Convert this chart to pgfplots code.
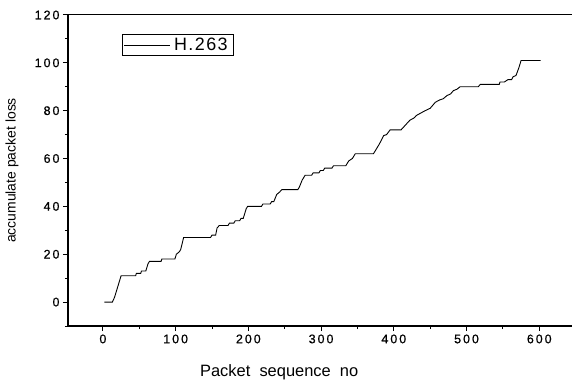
\documentclass[border=0pt]{standalone}
\usepackage{fontspec}
\setmainfont{Liberation Sans}
\newfontfamily\tickfont[LetterSpace=16,FakeBold=0.6]{Liberation Sans}
\newfontfamily\legfont[LetterSpace=8]{Liberation Sans}
\usepackage{pgfplots}
\pgfplotsset{compat=1.18}
\begin{document}
\begin{tikzpicture}
\begin{axis}[
  scale only axis,
  width=504bp, height=311bp,
  xmin=-48, xmax=645, ymin=-10, ymax=120,
  separate axis lines,
  axis x line*=bottom, axis y line*=left,
  x axis line style={-, line width=1.4pt},
  y axis line style={-, line width=1.4pt},
  xtick={0,100,...,600}, ytick={0,20,...,120},
  minor xtick={-50,50,150,250,350,450,550},
  minor ytick={-10,10,30,50,70,90,110},
  tick align=outside,
  major tick length=5bp, minor tick length=3bp,
  every tick/.style={black, line width=1pt},
  xticklabel={\tickfont\fontsize{12.5}{13}\selectfont\pgfmathprintnumber[assume math mode=true]{\tick}},
  yticklabel={\tickfont\fontsize{12.5}{13}\selectfont\pgfmathprintnumber[assume math mode=true]{\tick}},
  xlabel={Packet\ \ sequence\ \ no},
  ylabel={accumulate packet loss},
  xlabel style={font=\fontsize{16.5}{17}\selectfont, at={(axis description cs:0.419,-0.148)}, anchor=center},
  ylabel style={font=\fontsize{14}{15}\selectfont, at={(axis description cs:-0.111,0.5)}, anchor=center},
  legend style={at={(axis description cs:0.107,0.939)}, anchor=north west,
    draw=black, line width=1.1pt, font=\legfont\fontsize{18}{19}\selectfont,
    inner sep=1.5bp, row sep=0pt, nodes={inner xsep=4bp}},
  legend image code/.code={\draw[#1, line width=0.8pt] (0,0) -- (1.6cm,0);},
  clip=false,
]
\draw[line width=1pt] (rel axis cs:0,1) -- (rel axis cs:1,1);
\addplot[black, line width=0.9pt] coordinates {
(2,0) (13,0) (16,2) (20,6) (25,11) (45,11) (46,12) (52,12) (53,13) (59,13)
(62,16) (64,17) (80,17) (81,18) (99,18) (101,20) (105,21) (107,22) (111,27)
(148,27) (150,28) (155,28) (157,31) (160,32) (172,32) (174,33) (180,33)
(182,34) (188,34) (190,35) (193,35) (197,39) (199,40) (218,40) (220,41)
(230,41) (232,42) (235,42) (239,45) (243,46) (246,47) (268,47) (270,48)
(274,51) (278,53) (287,53) (289,54) (297,54) (299,55) (303,55) (305,56)
(315,56) (317,57) (334,57) (336,58) (338,59) (343,60) (347,62) (372,62)
(376,64) (380,66) (386,69.6) (390,70) (395,72) (410,72) (416,74) (422,76)
(428,77) (431,78) (437,79) (443,80) (450,81) (457,83.5) (463,84.5) (468,85)
(473,86.3) (478,87) (482,88.4) (487,89) (491,90) (516,90) (519,91) (545,91)
(546,92) (552,92) (557,93) (562,93) (564,94.2) (568,94.7) (572,98) (575,101)
(602,101)
};
\addlegendentry{H.263}
\end{axis}
\pgfresetboundingbox
\path ([shift={(-68bp,-59bp)}]current axis.south west) rectangle ([shift={(0bp,15bp)}]current axis.north east);
\end{tikzpicture}
\end{document}
